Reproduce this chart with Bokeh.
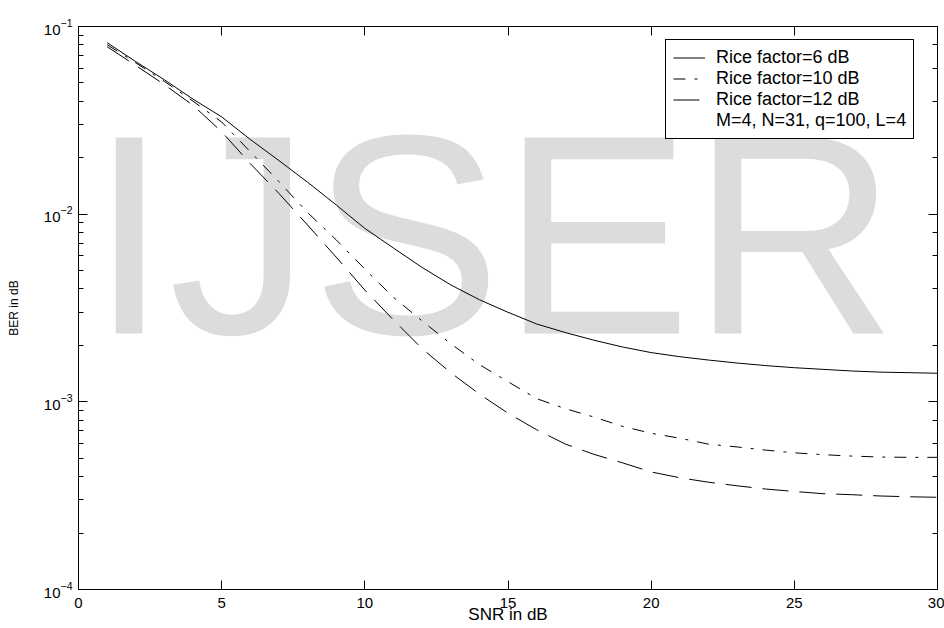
from bokeh.plotting import figure
from bokeh.models import Legend, LegendItem, LinearAxis, LogAxis, Label, FixedTicker
from bokeh.embed import file_html
from bokeh.resources import INLINE

# ---- data ----
snr = list(range(1, 31))
ber_k6 = [0.082, 0.065, 0.052, 0.041, 0.033, 0.025, 0.0193, 0.0148, 0.0112, 0.0084,
          0.0066, 0.0052, 0.0042, 0.0035, 0.0030, 0.0026, 0.00234, 0.00213, 0.00196, 0.00183,
          0.00174, 0.00167, 0.00161, 0.00156, 0.00152, 0.00149, 0.00146, 0.00144, 0.00143, 0.00142]
ber_k10 = [0.080, 0.064, 0.051, 0.040, 0.031, 0.0215, 0.0149, 0.0102, 0.0073, 0.0051,
           0.0036, 0.0027, 0.00204, 0.00158, 0.00128, 0.00104, 0.00092, 0.00083, 0.00074, 0.00068,
           0.00064, 0.000595, 0.000575, 0.000553, 0.000535, 0.000523, 0.000514, 0.000508, 0.000506, 0.000506]
ber_k12 = [0.078, 0.062, 0.049, 0.038, 0.0275, 0.0186, 0.0129, 0.00875, 0.0059, 0.00394,
           0.00273, 0.00192, 0.00143, 0.0011, 0.00087, 0.00071, 0.000596, 0.000525, 0.000473, 0.000423,
           0.000394, 0.000373, 0.000357, 0.000343, 0.000333, 0.000324, 0.00032, 0.000315, 0.000312, 0.00031]
x_ticks = [0, 5, 10, 15, 20, 25, 30]
legend_labels = ["Rice factor=6 dB", "Rice factor=10 dB", "Rice factor=12 dB",
                 "M=4, N=31, q=100, L=4"]
x_label = "SNR in dB"
y_label = "BER in dB"
watermark = "IJSER"

FONT = "Liberation Sans"

p = figure(frame_width=859, frame_height=563,
           x_range=(0, 30), y_range=(1e-4, 1e-1), y_axis_type="log",
           output_backend="svg", toolbar_location=None,
           min_border_left=78, min_border_right=7, min_border_top=26, min_border_bottom=39,
           background_fill_color="white", border_fill_color="white")
p.xgrid.visible = False
p.ygrid.visible = False
p.outline_line_color = "black"
p.outline_line_width = 1


def style_axis(ax, labels=True, minor=True):
    ax.axis_line_color = "black"
    ax.major_tick_line_color = "black"
    ax.major_tick_in = 9
    ax.major_tick_out = 0
    if minor:
        ax.minor_tick_line_color = "black"
        ax.minor_tick_in = 5
        ax.minor_tick_out = 0
    else:
        ax.minor_tick_line_color = None
    ax.major_label_text_font = FONT
    ax.major_label_text_color = "black"
    if labels:
        ax.major_label_text_font_size = "15px"
    else:
        ax.major_label_text_font_size = "1px"
        ax.major_label_text_alpha = 0
        ax.major_label_standoff = 0


# bottom x axis
xa = p.xaxis[0]
xa.ticker = FixedTicker(ticks=x_ticks)
style_axis(xa, labels=True, minor=False)
xa.major_label_standoff = 8
xa.axis_label = x_label
xa.axis_label_text_font = FONT
xa.axis_label_text_font_size = "17px"
xa.axis_label_text_font_style = "normal"
xa.axis_label_text_color = "black"
xa.axis_label_standoff = -6

# left y axis
ya = p.yaxis[0]
style_axis(ya, labels=True, minor=True)
ya.major_label_standoff = 6
ya.axis_label = y_label
ya.axis_label_text_font = FONT
ya.axis_label_text_font_size = "12px"
ya.axis_label_text_font_style = "normal"
ya.axis_label_text_color = "black"
ya.axis_label_text_align = "left"
ya.axis_label_standoff = 20

# top and right axes (ticks only, like a MATLAB box)
top = LinearAxis(ticker=FixedTicker(ticks=x_ticks))
style_axis(top, labels=False, minor=False)
p.add_layout(top, "above")
right = LogAxis()
style_axis(right, labels=False, minor=True)
p.add_layout(right, "right")

# watermark
wm = Label(x=11, y=355, x_units="screen", y_units="screen", text=watermark,
           text_font=FONT, text_font_size="285px", text_color="#dcdcdc",
           text_baseline="alphabetic", text_align="left", level="underlay")
p.add_layout(wm)

# curves
r6 = p.line(snr, ber_k6, line_color="black", line_width=1)
r10 = p.line(snr, ber_k10, line_color="black", line_width=1, line_dash="12 9 3 9")
r12 = p.line(snr, ber_k12, line_color="black", line_width=1, line_dash="26 11")
r_note = p.line(snr, ber_k6, line_color="white", line_alpha=0)

legend = Legend(items=[LegendItem(label=legend_labels[0], renderers=[r6]),
                       LegendItem(label=legend_labels[1], renderers=[r10]),
                       LegendItem(label=legend_labels[2], renderers=[r12]),
                       LegendItem(label=legend_labels[3], renderers=[r_note])],
                location=(587, 450), padding=7, spacing=0,
                label_height=21, glyph_height=21, glyph_width=32, label_standoff=11,
                label_text_font=FONT, label_text_font_size="18px", label_text_color="black",
                border_line_color="black", border_line_width=1, border_line_alpha=1,
                background_fill_color="white", background_fill_alpha=1, margin=0)
p.add_layout(legend, "center")

open("out.html", "w").write(file_html(p, INLINE))
